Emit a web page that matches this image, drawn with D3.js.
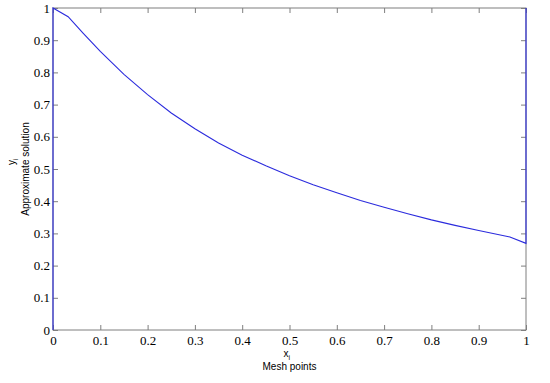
<!DOCTYPE html>
<html>
<head>
<meta charset="utf-8">
<script src="https://cdn.jsdelivr.net/npm/d3@7"></script>
<style>
  body { margin: 0; background: #fff; }
  .tick text { font-family: "Liberation Serif", "Times New Roman", Times, serif; font-size: 13px; }
</style>
</head>
<body>
<svg id="chart" width="550" height="383"></svg>
<script>
// mesh points and approximate solution
var meshX = [0, 0, 0.032, 0.064, 0.1, 0.15, 0.2, 0.25, 0.3, 0.35, 0.4, 0.45, 0.5, 0.55, 0.6, 0.65, 0.7, 0.75, 0.8, 0.85, 0.9, 0.966, 1, 1];
var solY  = [0, 1, 0.973, 0.921, 0.865, 0.794, 0.731, 0.674, 0.625, 0.581, 0.543, 0.510, 0.479, 0.451, 0.426, 0.402, 0.381, 0.361, 0.342, 0.325, 0.309, 0.289, 0.269, 1];
var xTicks = [0, 0.1, 0.2, 0.3, 0.4, 0.5, 0.6, 0.7, 0.8, 0.9, 1];
var yTicks = [0, 0.1, 0.2, 0.3, 0.4, 0.5, 0.6, 0.7, 0.8, 0.9, 1];

(function () {
    var svg = d3.select( "#chart" );
    var pLeft = 53, pRight = 526, pTop = 8, pBottom = 330;

    var x = d3.scaleLinear().domain( [ 0, 1 ] ).range( [ pLeft, pRight ] );
    var y = d3.scaleLinear().domain( [ 0, 1 ] ).range( [ pBottom, pTop ] );

    var fmt = function ( d ) { return d3.format( "~g" )( d ) };
    var boxColor = "#7f7f7f";

    // box
    svg.append( "rect" )
        .attr( "x", pLeft ).attr( "y", pTop )
        .attr( "width", pRight - pLeft ).attr( "height", pBottom - pTop )
        .style( "fill", "none" )
        .style( "stroke", boxColor )
        .style( "stroke-width", 1 );

    // axes, ticks pointing inward like matlab
    function styleAxis( g ) {
        g.select( ".domain" ).remove();
        g.selectAll( ".tick line" ).style( "stroke", boxColor );
        g.selectAll( ".tick text" ).style( "fill", "black" );
    }

    svg.append( "g" )
        .attr( "transform", "translate(0," + pBottom + ")" )
        .call( d3.axisBottom( x ).tickValues( xTicks ).tickFormat( fmt ).tickSize( -5 ).tickPadding( 6 ) )
        .call( styleAxis );
    svg.append( "g" )
        .attr( "transform", "translate(0," + pTop + ")" )
        .call( d3.axisTop( x ).tickValues( xTicks ).tickFormat( "" ).tickSize( -5 ) )
        .call( styleAxis );
    svg.append( "g" )
        .attr( "transform", "translate(" + pLeft + ",0)" )
        .call( d3.axisLeft( y ).tickValues( yTicks ).tickFormat( fmt ).tickSize( -5 ).tickPadding( 3 ) )
        .call( styleAxis );
    svg.append( "g" )
        .attr( "transform", "translate(" + pRight + ",0)" )
        .call( d3.axisRight( y ).tickValues( yTicks ).tickFormat( "" ).tickSize( -5 ) )
        .call( styleAxis );

    // the solution
    var line = d3.line()
        .x( function ( d, i ) { return x( meshX[ i ] ) } )
        .y( function ( d ) { return y( d ) } );

    svg.append( "path" )
        .datum( solY )
        .attr( "d", line )
        .style( "fill", "none" )
        .style( "stroke", "#2b2bdd" )
        .style( "stroke-width", 1.1 );

    // labels
    var labelFont = "10px 'Liberation Sans', Arial, sans-serif";
    var cx = ( pLeft + pRight ) / 2, cy = ( pTop + pBottom ) / 2;

    var xl = svg.append( "text" )
        .attr( "x", cx - 6 ).attr( "y", 357 )
        .style( "font", labelFont );
    xl.append( "tspan" ).text( "x" );
    xl.append( "tspan" ).attr( "dy", 3 ).style( "font-size", "7px" ).text( "i" );

    svg.append( "text" )
        .attr( "x", cx ).attr( "y", 370 )
        .attr( "text-anchor", "middle" )
        .style( "font", labelFont )
        .text( "Mesh points" );

    var yl = svg.append( "text" )
        .attr( "transform", "translate(15," + ( cy - 4 ) + ") rotate(-90)" )
        .style( "font", labelFont );
    yl.append( "tspan" ).text( "y" );
    yl.append( "tspan" ).attr( "dy", 3 ).style( "font-size", "7px" ).text( "i" );

    svg.append( "text" )
        .attr( "transform", "translate(29," + cy + ") rotate(-90)" )
        .attr( "text-anchor", "middle" )
        .style( "font", labelFont )
        .text( "Approximate solution" );
})();
</script>
</body>
</html>
